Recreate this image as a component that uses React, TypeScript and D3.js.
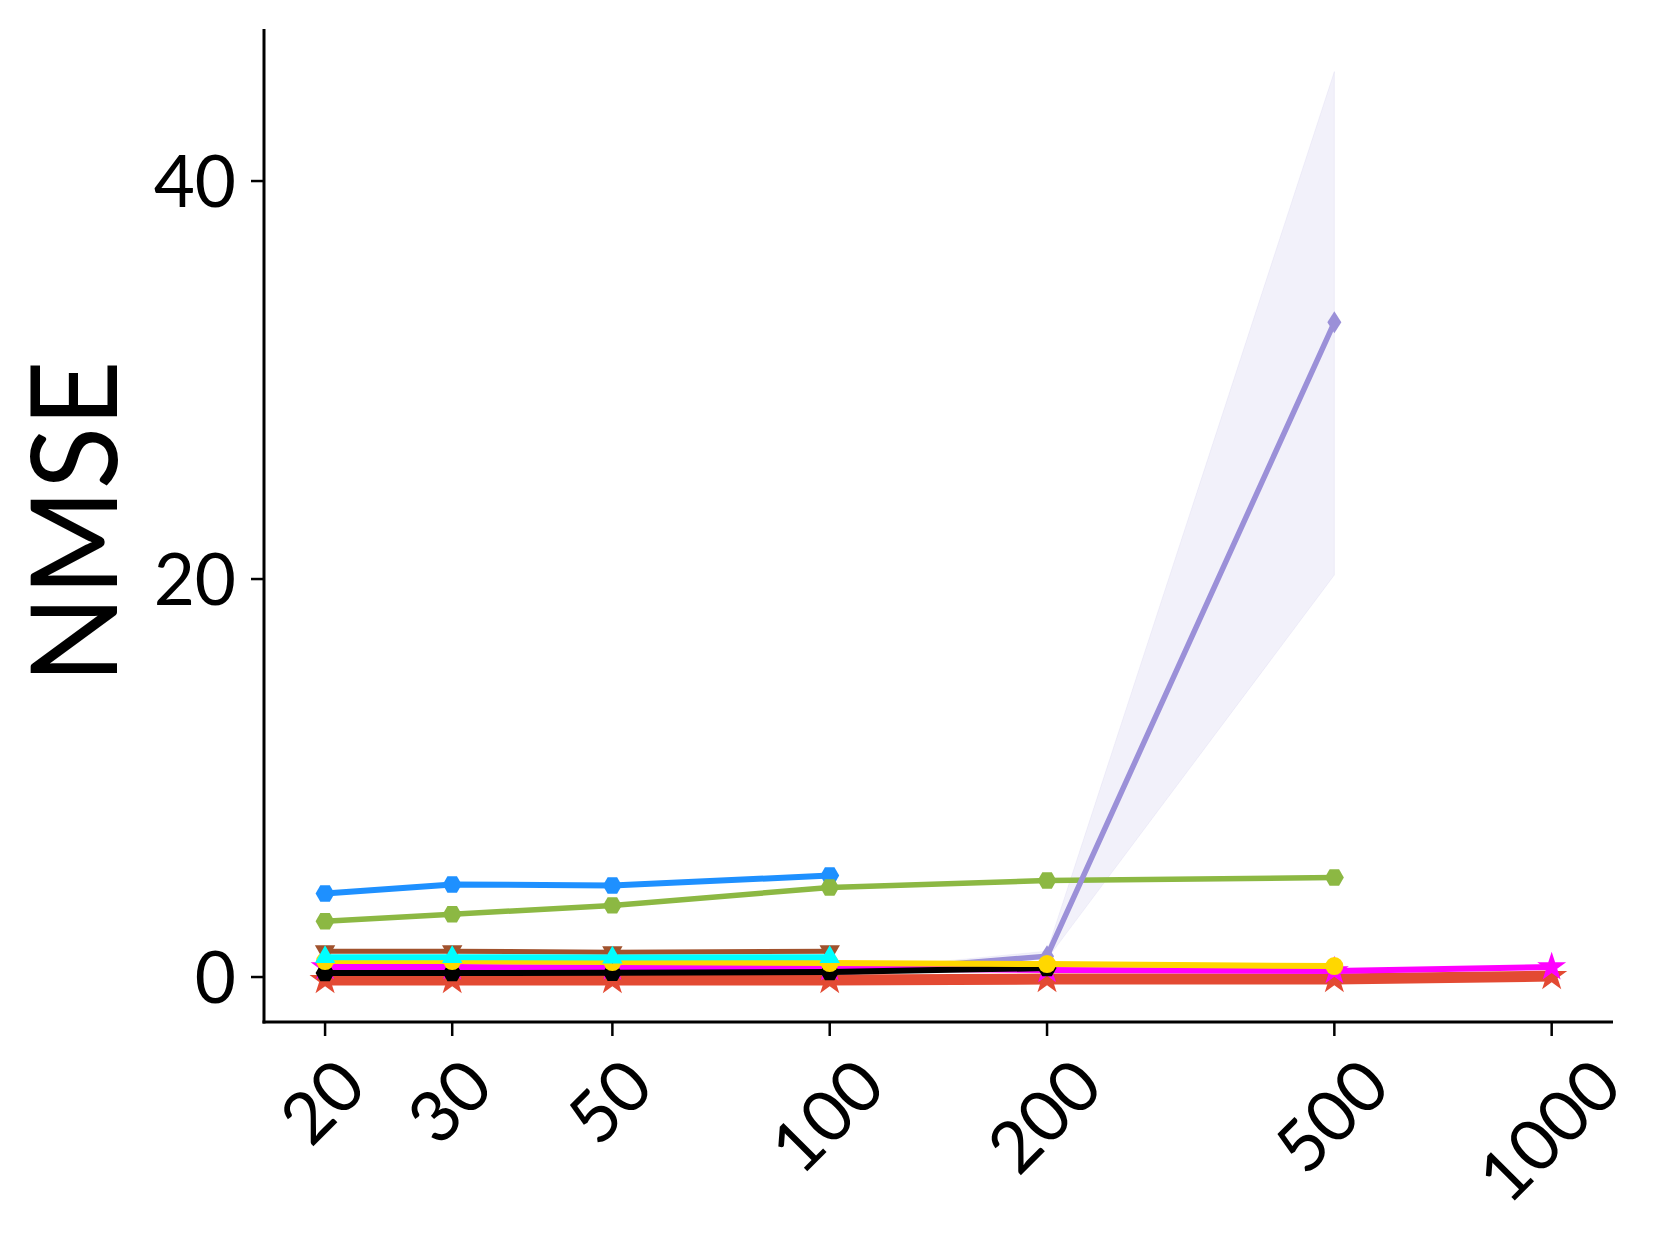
import React, { useEffect, useRef } from "react";
import * as d3 from "d3";

// sample sizes on the x axis (log scale)
const sizes = [20, 30, 50, 100, 200, 500, 1000];
const yTicks = [0, 20, 40];

// NMSE per method, null = not run at that size
const blueVals = [4.2, 4.65, 4.6, 5.1, null, null, null];
const greenVals = [2.8, 3.15, 3.6, 4.5, 4.85, 5.0, null];
const purpleVals = [0.15, 0.15, 0.15, 0.15, 1.05, 32.9, null];
const purpleLo = [0.05, 0.05, 0.05, 0.05, 0.9, 20.2, null];
const purpleHi = [0.25, 0.25, 0.25, 0.25, 1.3, 45.5, null];
const redVals = [-0.15, -0.15, -0.15, -0.15, -0.1, -0.1, 0.05];
const magentaVals = [0.5, 0.5, 0.48, 0.45, 0.35, 0.3, 0.5];
const blackVals = [0.2, 0.2, 0.22, 0.25, 0.45, null, null];
const yellowVals = [0.8, 0.8, 0.75, 0.7, 0.65, 0.55, null];
const brownVals = [1.3, 1.3, 1.25, 1.3, null, null, null];
const cyanVals = [1.0, 1.0, 0.98, 1.0, null, null, null];

type Series = {
  vals: (number | null)[];
  color: string;
  marker: string;
  width: number;
};

const seriesList: Series[] = [
  { vals: blueVals, color: "#1E90FF", marker: "hex", width: 6 },
  { vals: greenVals, color: "#8CB843", marker: "hex", width: 5.5 },
  { vals: purpleVals, color: "#9B90D8", marker: "thindiamond", width: 5.5 },
  { vals: redVals, color: "#E34A33", marker: "bigstar", width: 11 },
  { vals: magentaVals, color: "#FF00FF", marker: "star", width: 6 },
  { vals: blackVals, color: "#000000", marker: "hex", width: 6 },
  { vals: yellowVals, color: "#FFD700", marker: "circle", width: 6 },
  { vals: brownVals, color: "#A0522D", marker: "tridown", width: 5 },
  { vals: cyanVals, color: "#00FFFF", marker: "triup", width: 6 },
];

const FONT = "Lato, 'Open Sans', 'Liberation Sans', sans-serif";

function markerPath(kind: string): string {
  if (kind === "hex") {
    const r = 9.5;
    const pts = d3.range(6).map((i) => {
      const a = (Math.PI / 3) * i;
      return [r * Math.cos(a), r * Math.sin(a)];
    });
    return "M" + pts.map((p) => p.join(",")).join("L") + "Z";
  }
  if (kind === "thindiamond") return "M0,-11L7,0L0,11L-7,0Z";
  if (kind === "bigstar") return d3.symbol(d3.symbolStar, 300)()!;
  if (kind === "star") return d3.symbol(d3.symbolStar, 260)()!;
  if (kind === "circle") return d3.symbol(d3.symbolCircle, 254)()!;
  if (kind === "triup" || kind === "tridown") return d3.symbol(d3.symbolTriangle, 180)()!;
  return d3.symbol(d3.symbolCircle, 150)()!;
}

const Chart = () => {
  const ref = useRef<SVGSVGElement>(null);

  useEffect(() => {
    const svg = d3.select(ref.current);
    svg.selectAll("*").remove();

    const left = 264, right = 1613, top = 29, bottom = 1022;
    const x = d3.scaleLog().domain([16.46, 1216]).range([left, right]);
    const y = d3.scaleLinear().domain([-2.26, 47.64]).range([bottom, top]);

    // purple spread band
    const band = d3
      .area<number>()
      .defined((i) => purpleLo[i] != null)
      .x((i) => x(sizes[i]))
      .y0((i) => y(purpleLo[i] as number))
      .y1((i) => y(purpleHi[i] as number));
    svg
      .append("path")
      .attr("d", band(d3.range(sizes.length)))
      .attr("fill", "#9B90D8")
      .attr("fill-opacity", 0.13)
      .attr("stroke", "#9B90D8")
      .attr("stroke-opacity", 0.1);

    seriesList.forEach((s) => {
      const idx = d3.range(sizes.length).filter((i) => s.vals[i] != null);
      const ln = d3
        .line<number>()
        .x((i) => x(sizes[i]))
        .y((i) => y(s.vals[i] as number));
      svg
        .append("path")
        .attr("d", ln(idx))
        .attr("fill", "none")
        .attr("stroke", s.color)
        .attr("stroke-width", s.width)
        .attr("stroke-linejoin", "round");
      const p = markerPath(s.marker);
      svg
        .append("g")
        .selectAll("path")
        .data(idx)
        .enter()
        .append("path")
        .attr("d", p)
        .attr("fill", s.color)
        .attr(
          "transform",
          (i) =>
            `translate(${x(sizes[i])},${y(s.vals[i] as number)})` +
            (s.marker === "tridown" ? " rotate(180)" : "")
        );
    });

    // spines
    svg
      .append("line")
      .attr("x1", left).attr("x2", left)
      .attr("y1", top).attr("y2", bottom + 1.5)
      .attr("stroke", "#000").attr("stroke-width", 3);
    svg
      .append("line")
      .attr("x1", left - 1.5).attr("x2", right)
      .attr("y1", bottom).attr("y2", bottom)
      .attr("stroke", "#000").attr("stroke-width", 3);

    const fs = 71;
    // y ticks
    yTicks.forEach((t) => {
      svg
        .append("line")
        .attr("x1", left - 13).attr("x2", left)
        .attr("y1", y(t)).attr("y2", y(t))
        .attr("stroke", "#000").attr("stroke-width", 2.5);
      svg
        .append("text")
        .attr("x", 236)
        .attr("y", y(t))
        .attr("dy", 0.36 * fs)
        .attr("text-anchor", "end")
        .attr("font-family", FONT)
        .attr("font-size", fs)
        .text(t);
    });

    // x ticks with 45 degree labels
    sizes.forEach((v) => {
      svg
        .append("line")
        .attr("x1", x(v)).attr("x2", x(v))
        .attr("y1", bottom).attr("y2", bottom + 14)
        .attr("stroke", "#000").attr("stroke-width", 2.5);
      const t = svg
        .append("text")
        .attr("text-anchor", "middle")
        .attr("dy", 0.36 * fs)
        .attr("font-family", FONT)
        .attr("font-size", fs)
        .text(v);
      const w = (t.node() as SVGTextElement).getBBox().width;
      const h = 0.72 * fs;
      const half = (w + h) / (2 * Math.SQRT2);
      t.attr("transform", `translate(${x(v) - 3},${1054 + half}) rotate(-45)`);
    });

    svg
      .append("text")
      .attr("transform", `translate(74,522) rotate(-90)`)
      .attr("text-anchor", "middle")
      .attr("dy", 0.36 * 120)
      .attr("font-family", FONT)
      .attr("font-size", 120)
      .attr("textLength", 323)
      .attr("lengthAdjust", "spacingAndGlyphs")
      .text("NMSE");
  });

  return (
    <svg
      ref={ref}
      width={1662}
      height={1240}
      style={{ position: "absolute", left: 0, top: 0, background: "#fff" }}
    ></svg>
  );
};

export default function App() {
  return <Chart />;
}
